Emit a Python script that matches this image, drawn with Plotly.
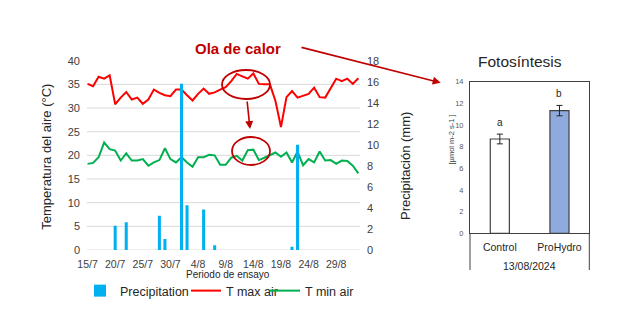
import pandas as pd
import plotly.graph_objects as go

# ---------------- data ----------------
start_date = "2024-07-15"
n_days = 50
tmax = [35.1, 34.6, 36.6, 36.2, 36.9, 30.8, 32.2, 33.4, 31.8, 32.2,
        30.9, 31.8, 33.9, 33.2, 32.7, 32.5, 33.9, 33.9, 32.7, 31.6,
        33.0, 34.1, 33.0, 33.3, 33.9, 34.4, 35.7, 37.2, 36.7, 36.2,
        37.3, 35.1, 35.0, 35.0, 31.5, 26.0, 32.3, 33.6, 32.2, 32.6,
        33.0, 34.3, 32.3, 32.2, 34.1, 36.2, 35.7, 36.2, 35.1, 36.3]
tmin = [18.2, 18.4, 19.6, 22.7, 21.3, 21.0, 18.9, 20.4, 18.9, 18.9,
        19.2, 17.8, 18.5, 19.0, 21.5, 19.2, 18.5, 19.6, 18.5, 17.6,
        19.6, 19.6, 20.1, 20.0, 18.0, 18.0, 19.5, 19.9, 18.9, 21.1,
        21.2, 19.0, 19.5, 20.0, 20.6, 19.7, 20.6, 18.5, 20.8, 17.9,
        19.2, 18.5, 20.8, 18.9, 19.0, 18.2, 18.9, 18.8, 17.8, 16.2]
precip = [0, 0, 0, 0, 0, 2.3, 0, 2.65, 0, 0,
          0, 0, 0, 3.25, 1.05, 0, 0, 15.8, 4.25, 0,
          0, 3.85, 0, 0.45, 0, 0, 0, 0, 0, 0,
          0, 0, 0, 0, 0, 0, 0, 0.3, 10.0, 0,
          0, 0, 0, 0, 0, 0, 0, 0, 0, 0]
tick_labels = ["15/7", "20/7", "25/7", "30/7", "4/8", "9/8", "14/8", "19/8", "24/8", "29/8"]

photo_cats = ["Control", "ProHydro"]
photo_vals = [8.71, 11.33]
photo_err = [0.45, 0.48]
photo_letters = ["a", "b"]
photo_colors = ["#ffffff", "#8faadc"]
photo_date = "13/08/2024"

# ---------------- figure ----------------
W, H = 643, 327
dates = pd.date_range(start_date, periods=n_days, freq="D")
day = pd.Timedelta(days=1)

def px(x):
    return x / W

def py(y):
    return 1 - y / H

fig = go.Figure()
fig.add_trace(go.Bar(x=dates, y=precip, name="Precipitation", yaxis="y2", legend="legend",
                     marker=dict(color="#00b0f0", line=dict(width=0)),
                     width=0.55 * 86400000))
fig.add_trace(go.Scatter(x=dates, y=tmax, name="T max air", mode="lines", legend="legend2",
                         line=dict(color="#ff0000", width=2)))
fig.add_trace(go.Scatter(x=dates, y=tmin, name="T min air", mode="lines", legend="legend3",
                         line=dict(color="#00b050", width=2)))

# photosynthesis panel
fig.add_trace(go.Bar(x=photo_cats, y=photo_vals, xaxis="x3", yaxis="y3",
                     marker=dict(color=photo_colors, line=dict(color="#404040", width=1.2)),
                     error_y=dict(type="data", array=photo_err, color="#222222",
                                  thickness=1, width=3),
                     showlegend=False))

font_main = "Liberation Sans, Arial, sans-serif"
tick_col = "#404040"

shapes = []
# gridlines of the main chart
for g in range(0, 40, 5):
    shapes.append(dict(type="line", xref="x domain", yref="y", x0=0, x1=1, y0=g, y1=g,
                       line=dict(color="#d9d9d9", width=1), layer="below"))
# ellipses
shapes.append(dict(type="circle", xref="paper", yref="paper",
                   x0=px(222), x1=px(270), y0=py(99), y1=py(70),
                   line=dict(color="#c00000", width=1.8)))
shapes.append(dict(type="circle", xref="paper", yref="paper",
                   x0=px(232), x1=px(270), y0=py(165), y1=py(137),
                   line=dict(color="#c00000", width=1.8)))
# side lines of the photosynthesis frame extending below the axis
for xd in (0, 1):
    shapes.append(dict(type="line", xref="x3 domain", yref="paper", x0=xd, x1=xd,
                       y0=py(233.3), y1=py(270), line=dict(color="#404040", width=1)))

def label(text, x, y, size, color="#262626", angle=0, xref="paper", yref="paper", bold=False):
    return dict(text=f"<b>{text}</b>" if bold else text, x=x, y=y, xref=xref, yref=yref,
                showarrow=False, textangle=angle, xanchor="center", yanchor="middle",
                font=dict(family=font_main, size=size, color=color))

annotations = [
    label("Ola de calor", px(238), py(48), 15, "#c00000", bold=True),
    dict(text="", x=px(440.7), y=py(82.7), xref="paper", yref="paper",
         ax=300 - 440.7, ay=47 - 82.7, showarrow=True, arrowhead=2, arrowsize=1,
         arrowwidth=1.6, arrowcolor="#c00000"),
    dict(text="", x=px(250), y=py(129), xref="paper", yref="paper",
         ax=-3, ay=-29, showarrow=True, arrowhead=2, arrowsize=1,
         arrowwidth=1.6, arrowcolor="#c00000"),
    label("Temperatura del aire (°C)", px(47), py(156.7), 13, angle=-90),
    label("Precipitación (mm)", px(405), py(166), 13, angle=-90),
    label("Periodo de ensayo", px(228), py(274), 10),
    label("Fotosíntesis", px(520), py(61.5), 15.5),
    label("[µmol m-2 s-1 ]", px(451.5), py(140), 7.5, "#404040", angle=-90),
    label(photo_date, 0.5, py(265.7), 10.5, xref="x3 domain"),
]
for c, v, e, l in zip(photo_cats, photo_vals, photo_err, photo_letters):
    annotations.append(label(l, c, v + e + 1.1, 10, xref="x3", yref="y3"))

def legend_at(x_text_start):
    return dict(orientation="h", x=px(x_text_start - 40), y=py(291), xanchor="left",
                yanchor="middle", font=dict(family=font_main, size=12.5, color="#262626"),
                itemwidth=30, bgcolor="rgba(0,0,0,0)", borderwidth=0)

fig.update_layout(
    width=W, height=H, margin=dict(l=0, r=0, t=0, b=0, autoexpand=False),
    paper_bgcolor="white", plot_bgcolor="white",
    font=dict(family=font_main, color=tick_col),
    barmode="overlay",
    bargap=0.68,
    showlegend=True,
    legend=legend_at(120),
    legend2=legend_at(226),
    legend3=legend_at(305),
    xaxis=dict(domain=[px(87), px(360)], type="date", automargin=False,
               range=[dates[0] - 0.1 * day, dates[-1] + 0.3 * day],
               tickvals=list(dates[::5]), ticktext=tick_labels,
               showgrid=False, zeroline=False, showline=False, ticks="",
               tickfont=dict(size=10.5, color=tick_col), ticklabelstandoff=6),
    yaxis=dict(domain=[py(250), py(60.7)], range=[0, 40], dtick=5, automargin=False,
               showgrid=False, zeroline=False, showline=False, ticks="",
               tickfont=dict(size=11, color=tick_col), ticklabelstandoff=6),
    yaxis2=dict(overlaying="y", side="right", range=[0, 18], dtick=2, automargin=False,
                showgrid=False, zeroline=False, showline=False, ticks="",
                tickfont=dict(size=11, color=tick_col), ticklabelstandoff=6),
    xaxis3=dict(domain=[px(470), px(589.3)], anchor="y3", type="category", automargin=False,
                range=[-0.5, 1.5], showline=True, mirror=True, linecolor="#404040",
                linewidth=1, ticks="", showgrid=False,
                tickfont=dict(size=10.5, color="#262626"), ticklabelstandoff=4),
    yaxis3=dict(domain=[py(233.3), py(81.7)], anchor="x3", range=[0, 14], dtick=2,
                automargin=False,
                showline=True, mirror=True, linecolor="#404040", linewidth=1,
                ticks="", showgrid=False, zeroline=False,
                tickfont=dict(size=7.5, color="#595959"), ticklabelstandoff=4),
    shapes=shapes,
    annotations=annotations,
)

fig.write_html("out.html")
